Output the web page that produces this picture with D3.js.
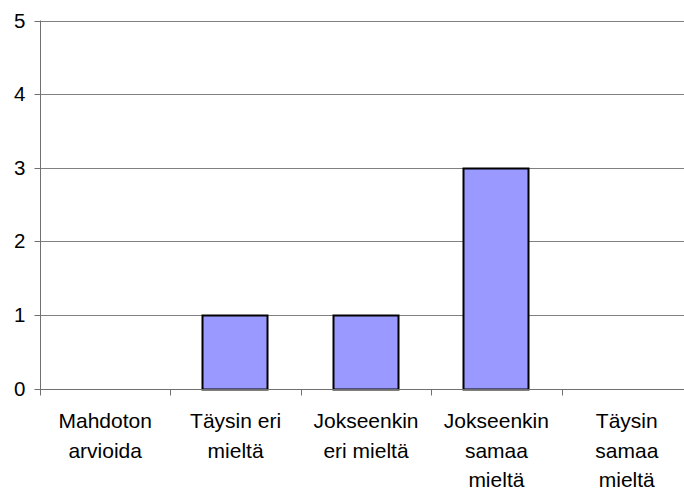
<!DOCTYPE html>
<html>
<head>
<meta charset="utf-8">
<script src="https://cdn.jsdelivr.net/npm/d3@7"></script>
<style>
  html, body { margin: 0; padding: 0; background: #fff; overflow: hidden; }
  svg { display: block; }
</style>
</head>
<body>
<script>
const categories = ["Mahdoton arvioida", "Täysin eri mieltä", "Jokseenkin eri mieltä", "Jokseenkin samaa mieltä", "Täysin samaa mieltä"];
const categoryLines = [["Mahdoton", "arvioida"], ["Täysin eri", "mieltä"], ["Jokseenkin", "eri mieltä"], ["Jokseenkin", "samaa", "mieltä"], ["Täysin", "samaa", "mieltä"]];
const values = [0, 1, 1, 3, 0];
const yTicks = [0, 1, 2, 3, 4, 5];

(function () {
const W = 684, H = 491;
const pLeft = 40, pRight = 692, pTop = 20.5, pBottom = 388.5;
const font = "'Liberation Sans', Arial, sans-serif";

const svg = d3.select("body").append("svg").attr("width", W).attr("height", H);

const x = d3.scaleBand().domain(categories).range([pLeft, pRight]).padding(0);
const y = d3.scaleLinear().domain([0, 5]).range([pBottom, pTop]);

// gridlines
svg.append("g").selectAll("line").data(yTicks.filter(d => d > 0)).join("line")
  .attr("x1", pLeft).attr("x2", pRight)
  .attr("y1", d => Math.round(y(d)) + 0.5).attr("y2", d => Math.round(y(d)) + 0.5)
  .attr("stroke", "#808080").attr("stroke-width", 1);

// bars
const bw = x.bandwidth();
svg.append("g").selectAll("rect").data(categories.map((c, i) => ({c, v: values[i]})).filter(d => d.v > 0)).join("rect")
  .attr("x", d => Math.round(x(d.c) + bw * 0.245) + 0.5)
  .attr("width", Math.round(bw * 0.495))
  .attr("y", d => Math.round(y(d.v)) + 0.5)
  .attr("height", d => Math.round(y(0)) - Math.round(y(d.v)))
  .attr("fill", "#9999FF").attr("stroke", "#000").attr("stroke-width", 2);

// y axis
const yAxis = d3.axisLeft(y).tickValues(yTicks).tickSize(6).tickPadding(9).tickFormat(d3.format("d"));
const gy = svg.append("g").attr("transform", `translate(${pLeft + 0.5},0)`).call(yAxis);
gy.select(".domain").attr("stroke", "#707070").attr("d", `M0,${pTop}V${pBottom + 0.5}`);
gy.selectAll(".tick line").attr("stroke", "#707070");
gy.selectAll(".tick text").attr("font-family", font).attr("font-size", 20.5).attr("fill", "#000");
gy.selectAll(".tick").attr("transform", d => `translate(0,${Math.round(y(d)) + 0.5})`);

// x axis
const gx = svg.append("g").attr("transform", `translate(0,${Math.round(pBottom) + 0.5})`);
gx.append("line").attr("x1", pLeft).attr("x2", pRight).attr("y1", 0).attr("y2", 0).attr("stroke", "#707070");
const bounds = categories.map(c => x(c)).concat([pRight]);
gx.selectAll("line.tk").data(bounds).join("line").attr("class", "tk")
  .attr("x1", d => Math.round(d) + 0.5).attr("x2", d => Math.round(d) + 0.5)
  .attr("y1", 0).attr("y2", 6).attr("stroke", "#707070");

// category labels
const lbl = svg.append("g");
categories.forEach((c, i) => {
  const t = lbl.append("text")
    .attr("x", x(c) + bw / 2)
    .attr("text-anchor", "middle")
    .attr("font-family", font).attr("font-size", 21).attr("fill", "#000");
  categoryLines[i].forEach((line, j) => {
    t.append("tspan").attr("x", x(c) + bw / 2).attr("y", 428 + j * 29.5).text(line);
  });
});
})();
</script>
</body>
</html>
